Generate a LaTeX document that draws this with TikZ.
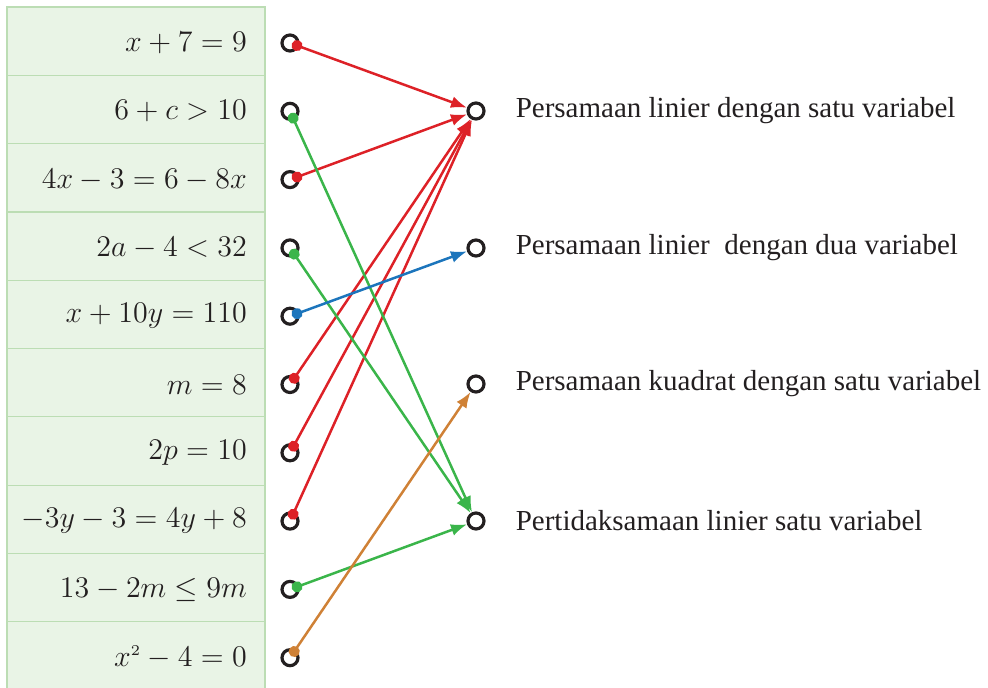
\documentclass[tikz,border=0pt]{standalone}
\usepackage{fontspec}
\setmainfont{Liberation Serif}
\usetikzlibrary{positioning,arrows.meta}
\definecolor{rowFill}{HTML}{E9F4E6}
\definecolor{rowLine}{HTML}{BCDDB4}
\definecolor{linkRed}{HTML}{DD2127}
\definecolor{linkGreen}{HTML}{3AB54A}
\definecolor{linkBlue}{HTML}{1C75BC}
\definecolor{linkOrange}{HTML}{CF8136}
\definecolor{inkDark}{HTML}{231F20}

\begin{document}
\begin{tikzpicture}[x=1pt, y=-1pt, >={Latex[length=16pt,width=12pt]},
      row/.style={draw=rowLine, fill=rowFill, line width=1.2pt, minimum width=258pt, minimum height=68.3pt, inner sep=0pt},
      eq/.style={anchor=east, inner sep=0pt, text=inkDark},
      hole/.style={circle, draw=inkDark, line width=3.2pt, minimum size=16pt, inner sep=0pt},
      lbl/.style={font=\fontsize{29}{34}\selectfont, anchor=west, inner sep=0pt, text=inkDark},
      link/.style={{Circle[length=11pt]}->, line width=2.5pt, shorten <=2pt}]
    \useasboundingbox (0,0) rectangle (988,688);
    % left column: the open sentences
    \foreach \eqn [count=\i] in {{x+7=9}, {6+c>10}, {4x-3=6-8x}, {2a-4<32}, {x+10y=110},
        {m=8}, {2p=10}, {-3y-3=4y+8}, {13-2m\le 9m}, {x^{\scriptscriptstyle 2}-4=0}} {
      \node[row] (r\i) at (136, {41.15+68.3*(\i-1)}) {};
      \node[eq] at (247, {43+68.3*(\i-1)}) {\scalebox{2.5}{\large$\eqn$}};
      \node[hole] (s\i) at (290, {43+68.3*(\i-1)}) {};
    }
    % right column: the kinds
    \node[hole] (t1) at (476, 111) {};
    \node[hole] (t2) at (476, 248) {};
    \node[hole] (t3) at (476, 384) {};
    \node[hole] (t4) at (476, 521) {};
    \node[lbl, right=30pt of t1] (k1) {Persamaan linier dengan satu variabel};
    \node[lbl, right=30pt of t2] (k2) {Persamaan linier \ dengan dua variabel};
    \node[lbl, right=30pt of t3] (k3) {Persamaan kuadrat dengan satu variabel};
    \node[lbl, right=30pt of t4] (k4) {Pertidaksamaan linier satu variabel};
    % matches
    \foreach \s/\t/\c in {1/1/linkRed, 3/1/linkRed, 6/1/linkRed, 7/1/linkRed, 8/1/linkRed,
        2/4/linkGreen, 4/4/linkGreen, 9/4/linkGreen, 5/2/linkBlue, 10/3/linkOrange} {
      \draw[link, \c] (s\s.center) -- (t\t);
    }
  \end{tikzpicture}
\end{document}
